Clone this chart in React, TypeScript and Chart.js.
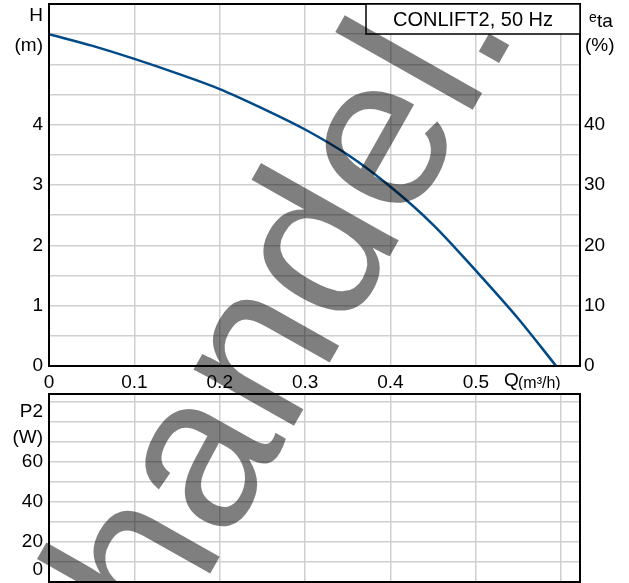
import React, { useEffect, useRef } from "react";
import { Chart, registerables } from "chart.js";

Chart.register(...registerables);

// ---- data ----
const flowQ = [0, 0.05, 0.1, 0.15, 0.2, 0.25, 0.3, 0.35, 0.4, 0.45, 0.5, 0.55, 0.594];
const headH = [5.5, 5.31, 5.09, 4.85, 4.59, 4.27, 3.92, 3.5, 2.97, 2.34, 1.58, 0.78, 0];
const xTickLabels = [0, 0.1, 0.2, 0.3, 0.4, 0.5];
const hTickLabels = [0, 1, 2, 3, 4];
const etaTickLabels = [0, 10, 20, 30, 40];
const p2TickLabels = [20, 40, 60];
const titleText = "CONLIFT2, 50 Hz";
const watermarkText = "handel.";

const FONT = "'Liberation Sans', Arial, Helvetica, sans-serif";
const GRID = "#cfcfcf";

const has = (arr: number[], v: number) => arr.some((a) => Math.abs(a - v) < 1e-6);
const fmtX = (v: number) => (Math.abs(v) < 1e-9 ? "0" : v.toFixed(1));

const zeroPad = (s: any) => {
  s.paddingTop = 0;
  s.paddingBottom = 0;
  s.paddingLeft = 0;
  s.paddingRight = 0;
};

const boxPlugin = {
  id: "boxBorder",
  afterDraw(chart: any) {
    const { ctx, chartArea: a } = chart;
    ctx.save();
    ctx.strokeStyle = "#000";
    ctx.lineWidth = 2;
    ctx.strokeRect(a.left, a.top, a.right - a.left, a.bottom - a.top);
    ctx.restore();
  },
};

const topLabels = {
  id: "topLabels",
  afterDraw(chart: any) {
    const { ctx, chartArea: a } = chart;
    const y = chart.scales.y;
    ctx.save();
    // title box
    const bw = 214;
    const bh = 30;
    ctx.fillStyle = "#fff";
    ctx.fillRect(a.right - bw, a.top, bw, bh);
    ctx.strokeStyle = "#000";
    ctx.lineWidth = 1.5;
    ctx.strokeRect(a.right - bw, a.top, bw, bh);
    ctx.fillStyle = "#000";
    ctx.font = `20px ${FONT}`;
    ctx.textAlign = "center";
    ctx.textBaseline = "middle";
    ctx.fillText(titleText, a.right - bw / 2, a.top + bh / 2 + 1);
    // left axis title
    ctx.font = `19px ${FONT}`;
    ctx.textAlign = "right";
    ctx.fillText("H", a.left - 6, y.getPixelForValue(5.81));
    ctx.fillText("(m)", a.left - 6, y.getPixelForValue(5.3));
    // right axis title
    ctx.textAlign = "left";
    ctx.textBaseline = "alphabetic";
    ctx.font = `14px ${FONT}`;
    ctx.fillText("e", a.right + 9, y.getPixelForValue(5.7));
    ctx.font = `19px ${FONT}`;
    ctx.fillText("ta", a.right + 17, y.getPixelForValue(5.62));
    ctx.textBaseline = "middle";
    ctx.fillText("(%)", a.right + 5, y.getPixelForValue(5.3));
    // x axis title
    const xs = chart.scales.x;
    const qx = xs.getPixelForValue(0.533);
    ctx.font = `19px ${FONT}`;
    ctx.fillText("Q", qx, a.bottom + 15);
    ctx.font = `16px ${FONT}`;
    ctx.fillText("(m³/h)", qx + 14, a.bottom + 18);
    ctx.restore();
  },
};

const bottomLabels = {
  id: "bottomLabels",
  afterDraw(chart: any) {
    const { ctx, chartArea: a } = chart;
    const y = chart.scales.y;
    ctx.save();
    ctx.fillStyle = "#000";
    ctx.font = `19px ${FONT}`;
    ctx.textAlign = "right";
    ctx.textBaseline = "middle";
    ctx.fillText("P2", a.left - 6, y.getPixelForValue(85));
    ctx.fillText("(W)", a.left - 6, y.getPixelForValue(72));
    ctx.fillText("0", a.left - 6, y.getPixelForValue(6));
    ctx.restore();
  },
};

export default function App() {
  const topRef = useRef<HTMLCanvasElement>(null);
  const botRef = useRef<HTMLCanvasElement>(null);
  const wmRef = useRef<HTMLCanvasElement>(null);

  useEffect(() => {
    const tickFont = { family: FONT, size: 19 };
    const top = new Chart(topRef.current!, {
      type: "line",
      data: {
        datasets: [
          {
            label: "H",
            data: flowQ.map((q, i) => ({ x: q, y: headH[i] })),
            borderColor: "#004a88",
            borderWidth: 2.5,
            pointRadius: 0,
            cubicInterpolationMode: "monotone",
            fill: false,
            yAxisID: "y",
          },
        ],
      },
      options: {
        responsive: false,
        animation: false,
        layout: { padding: { top: 4, left: 0, right: 0, bottom: 0 } },
        plugins: { legend: { display: false }, tooltip: { enabled: false }, title: { display: false } },
        scales: {
          x: {
            type: "linear",
            min: 0,
            max: 0.622,
            position: "bottom",
            border: { display: false },
            grid: { color: GRID, lineWidth: 1.5, drawTicks: false },
            ticks: {
              stepSize: 0.1,
              includeBounds: false,
              padding: 5,
              maxRotation: 0,
              autoSkip: false,
              color: "#000",
              font: tickFont,
              callback: (v: any) => (has(xTickLabels, Number(v)) ? fmtX(Number(v)) : ""),
            },
            afterFit: (s: any) => {
              s.height = 24;
              zeroPad(s);
            },
          },
          y: {
            type: "linear",
            min: 0,
            max: 6,
            position: "left",
            border: { display: false },
            grid: { color: GRID, lineWidth: 1.5, drawTicks: false },
            ticks: {
              stepSize: 0.5,
              padding: 6,
              autoSkip: false,
              color: "#000",
              font: tickFont,
              callback: (v: any) => (has(hTickLabels, Number(v)) ? String(v) : ""),
            },
            afterFit: (s: any) => {
              s.width = 49;
              zeroPad(s);
            },
          },
          y2: {
            type: "linear",
            min: 0,
            max: 60,
            position: "right",
            border: { display: false },
            grid: { display: false, drawTicks: false },
            ticks: {
              stepSize: 10,
              padding: 4,
              autoSkip: false,
              color: "#000",
              font: tickFont,
              callback: (v: any) => (has(etaTickLabels, Number(v)) ? String(v) : ""),
            },
            afterFit: (s: any) => {
              s.width = 49;
              zeroPad(s);
            },
          },
        },
      },
      plugins: [boxPlugin, topLabels],
    } as any);

    const bot = new Chart(botRef.current!, {
      type: "line",
      data: { datasets: [{ label: "P2", data: [], yAxisID: "y" }] },
      options: {
        responsive: false,
        animation: false,
        layout: { padding: { top: 4, left: 0, right: 49, bottom: 0 } },
        plugins: { legend: { display: false }, tooltip: { enabled: false } },
        scales: {
          x: {
            type: "linear",
            min: 0,
            max: 0.622,
            position: "bottom",
            border: { display: false },
            grid: { color: GRID, lineWidth: 1.5, drawTicks: false },
            ticks: { display: false, stepSize: 0.1, includeBounds: false },
            afterFit: (s: any) => {
              s.height = 1;
              zeroPad(s);
            },
          },
          y: {
            type: "linear",
            min: 0,
            max: 94,
            position: "left",
            border: { display: false },
            grid: { color: GRID, lineWidth: 1.5, drawTicks: false },
            ticks: {
              stepSize: 10,
              includeBounds: false,
              padding: 6,
              autoSkip: false,
              color: "#000",
              font: tickFont,
              callback: (v: any) => (has(p2TickLabels, Number(v)) ? String(v) : ""),
            },
            afterFit: (s: any) => {
              s.width = 49;
              zeroPad(s);
            },
          },
        },
      },
      plugins: [boxPlugin, bottomLabels],
    } as any);

    const wm = wmRef.current!;
    const ctx = wm.getContext("2d")!;
    ctx.clearRect(0, 0, wm.width, wm.height);
    ctx.save();
    ctx.translate(167, 650);
    ctx.rotate((-60.5 * Math.PI) / 180);
    ctx.font = `218px ${FONT}`;
    ctx.fillStyle = "rgba(0,0,0,0.5)";
    ctx.textBaseline = "alphabetic";
    ctx.fillText(watermarkText, 0, 0);
    ctx.restore();

    return () => {
      top.destroy();
      bot.destroy();
    };
  }, []);

  return (
    <div style={{ position: "absolute", left: 0, top: 0, width: 629, height: 583, background: "#fff", overflow: "hidden" }}>
      <canvas ref={topRef} width={629} height={390} style={{ position: "absolute", left: 0, top: 0 }} />
      <canvas ref={botRef} width={629} height={193} style={{ position: "absolute", left: 0, top: 390 }} />
      <canvas ref={wmRef} width={629} height={583} style={{ position: "absolute", left: 0, top: 0, pointerEvents: "none" }} />
    </div>
  );
}
